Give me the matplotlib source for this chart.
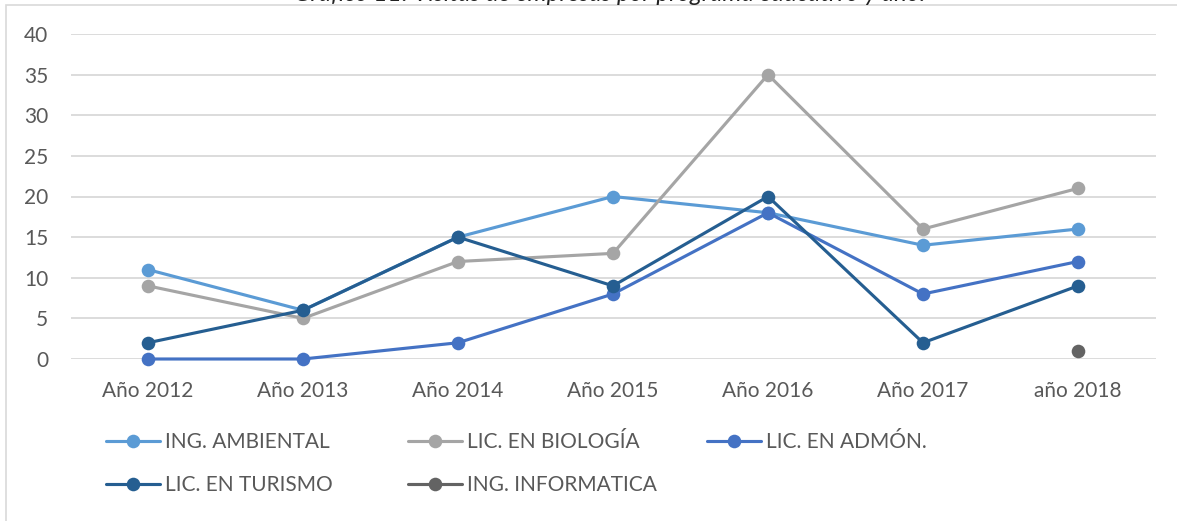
import numpy as np
import matplotlib
matplotlib.use("Agg")
import matplotlib.pyplot as plt
from matplotlib.patches import Rectangle

plt.rcParams['font.family'] = ['Lato', 'DejaVu Sans']

categories = ["Año 2012", "Año 2013", "Año 2014", "Año 2015", "Año 2016", "Año 2017", "año 2018"]
ambiental = [11, 6, 15, 20, 18, 14, 16]
biologia = [9, 5, 12, 13, 35, 16, 21]
admon = [0, 0, 2, 8, 18, 8, 12]
turismo = [2, 6, 15, 9, 20, 2, 9]
informatica = [np.nan, np.nan, np.nan, np.nan, np.nan, np.nan, 1]

series_names = ["ING. AMBIENTAL", "LIC. EN BIOLOGÍA", "LIC. EN ADMÓN.", "LIC. EN TURISMO", "ING. INFORMATICA"]
series_values = [ambiental, biologia, admon, turismo, informatica]
colors = ["#5B9BD5", "#A5A5A5", "#4472C4", "#255E91", "#636363"]
yticks = [0, 5, 10, 15, 20, 25, 30, 35, 40]

W, H = 1177, 521
fig = plt.figure(figsize=(W / 100, H / 100), dpi=100)

# outer chart frame
fig.patches.append(Rectangle((6 / W, -0.1), 1.2, 1 - 5 / H + 0.1, transform=fig.transFigure,
                             fill=False, edgecolor="#D9D9D9", linewidth=1.2, zorder=0))

# title, cut off at the top edge as in the reference
fig.text(610 / W, 1 - 1 / H, "Gráfico 11. Visitas de empresas por programa educativo y año.",
         ha="center", va="baseline", fontsize=17.5, style="italic", color="#222222")

left, right = 70.5, 1155.5
y0, y40 = 359, 34
ax = fig.add_axes([left / W, (H - y0) / H, (right - left) / W, (y0 - y40) / H])
x = np.arange(len(categories))
handles = []
for name, vals, c in zip(series_names, series_values, colors):
    h, = ax.plot(x, vals, color=c, lw=2.25, marker="o", markersize=9.8,
                 markeredgewidth=0, label=name, clip_on=False, solid_capstyle="round")
    handles.append(h)

ax.set_xlim(-0.5, len(categories) - 0.5)
ax.set_ylim(0, 40)
ax.set_yticks(yticks)
ax.set_xticks(x)
ax.set_xticklabels(categories)
ax.yaxis.grid(True, color="#D9D9D9", lw=1.3)
ax.set_axisbelow(True)
for s in ax.spines.values():
    s.set_visible(False)
ax.tick_params(length=0, labelsize=15, labelcolor="#595959")
ax.tick_params(axis="y", pad=16)
ax.tick_params(axis="x", pad=16)

# legend, in three columns placed by hand
cols = [([handles[0], handles[3]], 106, 463.5),
        ([handles[1], handles[4]], 408, 463.5),
        ([handles[2]], 707, 442)]
for hs, px, py in cols:
    fig.legend(handles=hs, labels=[h.get_label() for h in hs], loc="center left",
               bbox_to_anchor=(px / W, 1 - py / H), frameon=False, fontsize=15,
               handlelength=2.6, handletextpad=0.24, labelspacing=1.12,
               borderpad=0, borderaxespad=0, labelcolor="#595959")

fig.savefig("out.png", dpi=100)
